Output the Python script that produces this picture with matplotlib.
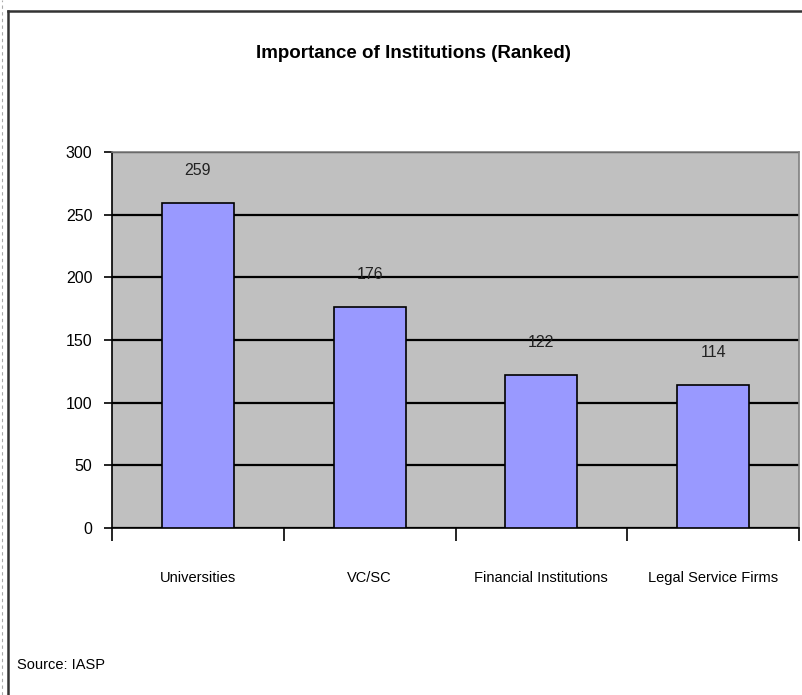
import matplotlib
matplotlib.use("Agg")
import matplotlib.pyplot as plt
from matplotlib.lines import Line2D

# data
categories = ["Universities", "VC/SC", "Financial Institutions", "Legal Service Firms"]
values = [259, 176, 122, 114]
y_ticks = [0, 50, 100, 150, 200, 250, 300]

plt.rcParams['font.family'] = ['Liberation Sans Narrow', 'Liberation Sans', 'DejaVu Sans']

W, H = 802, 695
fig = plt.figure(figsize=(W / 100, H / 100), dpi=100)
fig.patch.set_facecolor("white")

# plot area in pixels: x 112..799, y 152..528
ax = fig.add_axes([112 / W, 1 - 528 / H, 687 / W, 376 / H])
ax.set_facecolor("#C0C0C0")

x = list(range(len(categories)))
ax.bar(x, values, width=0.42, color="#9999FF", edgecolor="black", linewidth=1.2, zorder=3)

for xi, v in zip(x, values):
    ax.annotate(str(v), (xi, v), xytext=(0, 18), textcoords="offset points",
                ha="center", va="bottom", fontsize=11.5, color="#222222")

ax.set_ylim(0, 300)
ax.set_yticks(y_ticks)
ax.set_yticklabels([str(t) for t in y_ticks], fontsize=11.5)
ax.yaxis.grid(True, color="black", linewidth=1.6, zorder=1)
ax.set_axisbelow(True)

ax.set_xlim(-0.5, len(categories) - 0.5)
ax.set_xticks([i - 0.5 for i in range(len(categories) + 1)])
ax.set_xticklabels([])
ax.set_xticks(x, minor=True)
ax.set_xticklabels(categories, minor=True, fontsize=10.5)
ax.tick_params(axis="x", which="major", direction="out", length=9, width=1.2)
ax.tick_params(axis="x", which="minor", length=0, pad=31)
ax.tick_params(axis="y", direction="out", length=6, width=1.2, pad=8)

for s in ["top", "right"]:
    ax.spines[s].set_color("#808080")
    ax.spines[s].set_linewidth(1.2)
for s in ["left", "bottom"]:
    ax.spines[s].set_color("black")
    ax.spines[s].set_linewidth(1.2)

fig.text(413 / W, 1 - 54 / H, "Importance of Institutions (Ranked)",
         ha="center", va="center", fontsize=13.5, fontweight="bold")
fig.text(17 / W, 1 - 665 / H, "Source: IASP", ha="left", va="center", fontsize=10.5)

# chart border (top and left visible)
fig.add_artist(Line2D([8 / W, 8 / W], [0, 1 - 11 / H], color="#333333", linewidth=1.8))
fig.add_artist(Line2D([8 / W, 1], [1 - 11 / H, 1 - 11 / H], color="#333333", linewidth=1.8))
fig.add_artist(Line2D([1.5 / W, 1.5 / W], [0, 1], color="#AAAAAA", linewidth=0.8, linestyle=(0, (3, 3))))

fig.savefig("out.png", dpi=100)
